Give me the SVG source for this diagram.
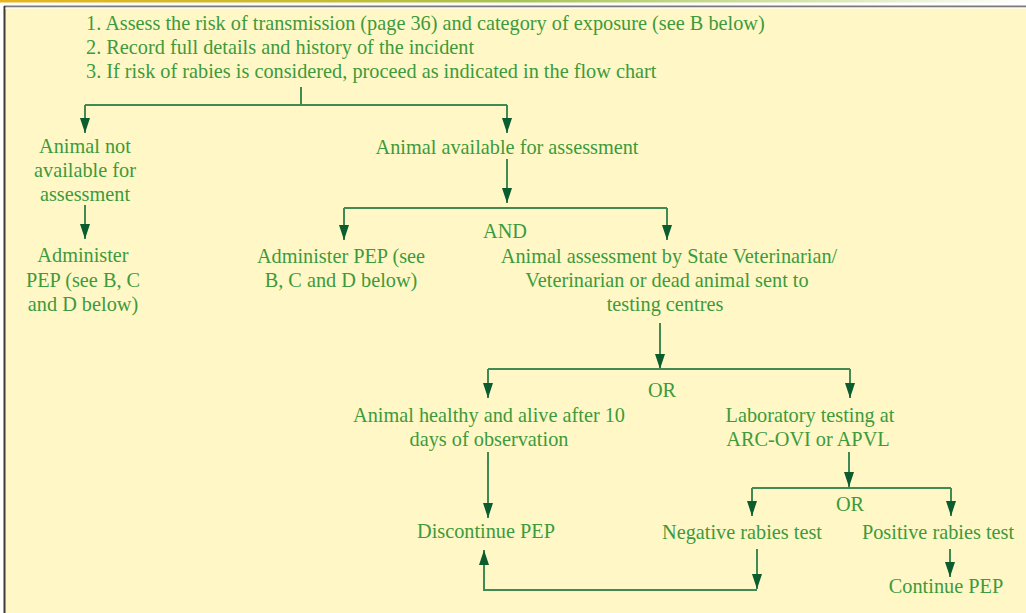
<svg xmlns="http://www.w3.org/2000/svg" width="1026" height="613" viewBox="0 0 1026 613">
<defs>
<linearGradient id="topband" x1="0" y1="0" x2="1" y2="0">
<stop offset="0" stop-color="#e8b41c"/>
<stop offset="0.3" stop-color="#c8bc30"/>
<stop offset="0.5" stop-color="#a6c452"/>
<stop offset="0.8" stop-color="#d8e6b0"/>
<stop offset="1" stop-color="#ffffff"/>
</linearGradient>
<marker id="ah" viewBox="0 0 15 10" refX="15" refY="5" markerWidth="15" markerHeight="10" markerUnits="userSpaceOnUse" orient="auto">
<path d="M0,0 L15,5 L0,10 Z" fill="#0b5c2e"/>
</marker>
<style>
text { font-family: "Liberation Serif", "Times New Roman", serif; font-size: 20.3px; fill: #3d9a3d; }
.c { text-anchor: middle; }
.ln { fill: none; stroke: #3f8a55; stroke-width: 2; }
.ar { fill: none; stroke: #3f8a55; stroke-width: 2; marker-end: url(#ah); }
</style>
</defs>
<rect x="0" y="0" width="1026" height="613" fill="#ffffff"/>
<rect x="0" y="0" width="1026" height="2.5" fill="url(#topband)"/>
<rect x="4" y="6" width="1022" height="607" fill="#fff8c6"/>
<line x1="4" y1="6.5" x2="1026" y2="6.5" stroke="#7a7a7a" stroke-width="2"/>
<line x1="4.5" y1="6" x2="4.5" y2="613" stroke="#3a3a3a" stroke-width="2"/>
<rect x="5.5" y="7.5" width="1020.5" height="1.5" fill="#fffbe4"/>

<g id="instructions">
<text x="86" y="30">1. Assess the risk of transmission (page 36) and category of exposure (see B below)</text>
<text x="86" y="54">2. Record full details and history of the incident</text>
<text x="86" y="78">3. If risk of rabies is considered, proceed as indicated in the flow chart</text>
</g>

<g id="connectors">
<path class="ln" d="M301,87 V105"/>
<path class="ln" d="M85,105 H507"/>
<path class="ar" d="M85,105 V133"/>
<path class="ar" d="M507,105 V133"/>
<path class="ar" d="M85,205 V239"/>
<path class="ar" d="M507,159 V203"/>
<path class="ln" d="M344,208 H667"/>
<path class="ar" d="M344,208 V240"/>
<path class="ar" d="M667,208 V240"/>
<path class="ar" d="M660,323 V369"/>
<path class="ln" d="M488,369 H850"/>
<path class="ar" d="M488,369 V398"/>
<path class="ar" d="M850,369 V398"/>
<path class="ar" d="M488,452 V518"/>
<path class="ar" d="M849,452 V487"/>
<path class="ln" d="M752,488 H951"/>
<path class="ar" d="M752,488 V516"/>
<path class="ar" d="M951,488 V516"/>
<path class="ar" d="M950,549 V577"/>
<path class="ar" d="M757,549 V589"/>
<path class="ar" d="M757,590 H484 V550"/>
</g>

<g id="node-not-available">
<text class="c" x="85" y="153">Animal not</text>
<text class="c" x="85" y="177">available for</text>
<text class="c" x="85" y="201">assessment</text>
</g>
<g id="node-administer-left">
<text class="c" x="83" y="262">Administer</text>
<text class="c" x="83" y="287">PEP (see B, C</text>
<text class="c" x="83" y="311">and D below)</text>
</g>
<g id="node-available">
<text class="c" x="507" y="154">Animal available for assessment</text>
</g>
<g id="label-and">
<text class="c" x="505" y="238">AND</text>
</g>
<g id="node-administer-mid">
<text class="c" x="341" y="263">Administer PEP (see</text>
<text class="c" x="341" y="287">B, C and D below)</text>
</g>
<g id="node-assessment">
<text class="c" x="669" y="263">Animal assessment by State Veterinarian/</text>
<text class="c" x="667" y="287">Veterinarian or dead animal sent to</text>
<text class="c" x="665" y="311">testing centres</text>
</g>
<g id="label-or-1">
<text class="c" x="662" y="397">OR</text>
</g>
<g id="node-healthy">
<text class="c" x="489" y="422">Animal healthy and alive after 10</text>
<text class="c" x="489" y="446">days of observation</text>
</g>
<g id="node-lab">
<text class="c" x="810" y="422">Laboratory testing at</text>
<text class="c" x="808" y="446">ARC-OVI or APVL</text>
</g>
<g id="label-or-2">
<text class="c" x="850" y="511">OR</text>
</g>
<g id="node-discontinue">
<text class="c" x="486" y="538">Discontinue PEP</text>
</g>
<g id="node-negative">
<text class="c" x="742" y="539">Negative rabies test</text>
</g>
<g id="node-positive">
<text class="c" x="938" y="539">Positive rabies test</text>
</g>
<g id="node-continue">
<text class="c" x="946" y="593">Continue PEP</text>
</g>
</svg>
